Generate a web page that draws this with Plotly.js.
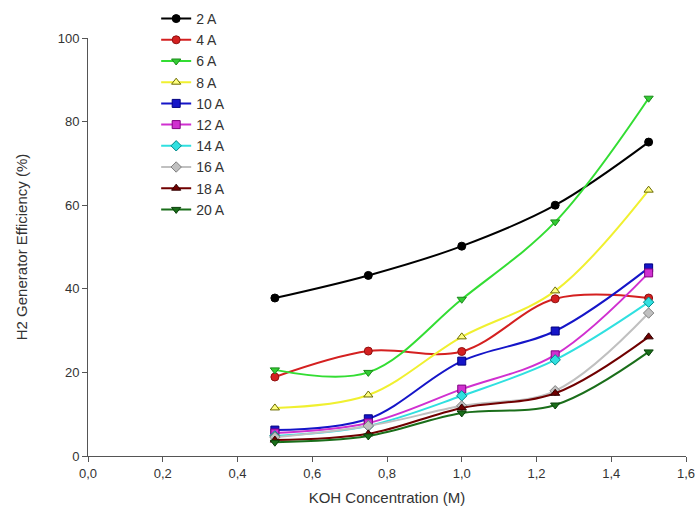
<!DOCTYPE html>
<html><head><meta charset="utf-8">
<script src="https://cdn.plot.ly/plotly-3.0.1.min.js"></script>
<style>html,body{margin:0;padding:0;background:#fff;}</style>
</head><body>
<div id="chart" style="width:700px;height:527px;"></div>
<script>
const koh = [0.5, 0.75, 1.0, 1.25, 1.5];
const seriesNames = ["2 A","4 A","6 A","8 A","10 A","12 A","14 A","16 A","18 A","20 A"];
const eff2A  = [37.8, 43.2, 50.2, 60.0, 75.1];
const eff4A  = [18.9, 25.1, 25.0, 37.6, 37.8];
const eff6A  = [20.6, 20.0, 37.5, 56.0, 85.6];
const eff8A  = [11.5, 14.6, 28.5, 39.5, 63.6];
const eff10A = [6.2, 8.9, 22.7, 29.9, 45.0];
const eff12A = [5.5, 7.9, 16.0, 24.2, 43.8];
const eff14A = [4.8, 7.2, 14.4, 23.0, 36.8];
const eff16A = [4.5, 7.2, 12.0, 15.6, 34.2];
const eff18A = [3.8, 5.3, 11.5, 15.0, 28.5];
const eff20A = [3.3, 4.8, 10.3, 12.2, 24.9];
const values = [eff2A, eff4A, eff6A, eff8A, eff10A, eff12A, eff14A, eff16A, eff18A, eff20A];
const lineColors = ["#000000","#d42020","#33dd33","#f0f030","#1515c8","#d030d0","#30e0e0","#c0c0c0","#700000","#1a6e1a"];
const markerFill = ["#000000","#d42020","#33cc33","#ffff80","#1515c8","#d030d0","#30e0e0","#c0c0c0","#700000","#1a6e1a"];
const markerLine = ["#000000","#901010","#1a8a1a","#6a6a00","#000080","#800080","#008888","#808080","#300000","#0a400a"];
const symbols = ["circle","circle","triangle-down","triangle-up","square","square","diamond","diamond","triangle-up","triangle-down"];

const traces = seriesNames.map((n, i) => ({
  x: koh, y: values[i], name: n, type: 'scatter', mode: 'lines+markers',
  line: {color: lineColors[i], width: 2, shape: 'spline', smoothing: 1},
  marker: {symbol: symbols[i], size: 8, color: markerFill[i], line: {color: markerLine[i], width: 1}}
}));

const layout = {
  width: 700, height: 527,
  margin: {l: 88, r: 14, t: 3, b: 71},
  paper_bgcolor: '#fff', plot_bgcolor: '#fff',
  separators: ',.',
  font: {family: 'Liberation Sans, Arial, sans-serif', size: 13, color: '#333'},
  showlegend: true,
  legend: {x: 0.114, y: 1, xanchor: 'left', yanchor: 'top',
           bgcolor: 'rgba(0,0,0,0)', font: {size: 14, color: '#333'}},
  xaxis: {
    range: [0, 1.6], dtick: 0.2, tickformat: '.1f', showgrid: false, zeroline: false,
    showline: true, linecolor: '#555', linewidth: 1, ticks: 'outside', ticklen: 5, tickcolor: '#555',
    tickfont: {size: 13, color: '#333'},
    title: {text: 'KOH Concentration (M)', font: {size: 15, color: '#333'}, standoff: 12}
  },
  yaxis: {
    range: [0, 100], dtick: 20, showgrid: false, zeroline: false, domain: [0, 418/453],
    showline: true, linecolor: '#555', linewidth: 1, ticks: 'outside', ticklen: 5, tickcolor: '#555',
    tickfont: {size: 13, color: '#333'},
    title: {text: 'H2 Generator Efficiency (%)', font: {size: 15, color: '#333'}, standoff: 26}
  }
};
Plotly.newPlot('chart', traces, layout, {displayModeBar: false});
</script>
</body></html>
